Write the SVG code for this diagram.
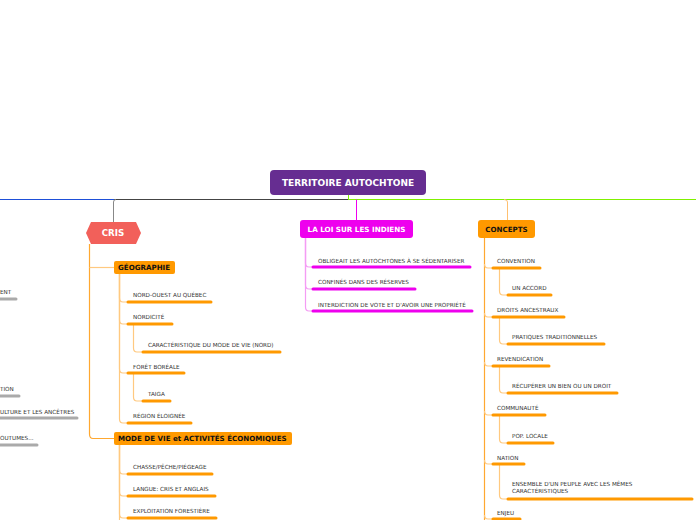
<svg xmlns="http://www.w3.org/2000/svg" width="696" height="520" viewBox="0 0 696 520">
<style>
text{font-family:"DejaVu Sans","Verdana",sans-serif}
.t{font-size:5.65px;fill:#333}
.h{font-size:7.1px;font-weight:bold;fill:#111}
.w{font-weight:bold;fill:#fff}
.ul{stroke:#FF9900;stroke-width:3;stroke-linecap:round;fill:none}
.um{stroke:#EE00EE;stroke-width:3;stroke-linecap:round;fill:none}
.ug{stroke:#AAAAAA;stroke-width:3;stroke-linecap:round;fill:none}
.c{fill:none;stroke:#FFC980;stroke-width:1.2}
.cm{fill:none;stroke:#F49CF4;stroke-width:1.2}
</style>
<rect width="696" height="520" fill="#fff"/>
<g id="connectors">
<line x1="0" y1="199.5" x2="114" y2="199.5" stroke="#1E4FD8" stroke-width="1"/>
<line x1="114" y1="199.5" x2="348" y2="199.5" stroke="#444" stroke-width="1"/>
<line x1="348" y1="199.5" x2="696" y2="199.5" stroke="#80F000" stroke-width="1"/>
<path d="M348.5 195 V199.5" stroke="#80F000" stroke-width="1" fill="none"/>
<path d="M116 199.5 Q113.5 199.5 113.5 202 V222" stroke="#888" stroke-width="1" fill="none"/>
<path d="M356.5 199.5 V220" stroke="#EE00EE" stroke-width="1" fill="none"/>
<path d="M504 199.5 Q507.5 199.5 507.5 202 V220" stroke="#FFC070" stroke-width="1" fill="none"/>
<!-- CRIS branch -->
<path d="M89.5 244 V434 Q89.5 438.5 93 438.5 H114" stroke="#FFA830" stroke-width="1.2" fill="none"/>
<path class="c" d="M89.5 267.5 H114"/>
<path class="c" d="M119.5 274 V298 Q119.5 302 123 302 H128"/>
<path class="c" d="M119.5 274 V320 Q119.5 324 123 324 H128"/>
<path class="c" d="M119.5 274 V369 Q119.5 373 123 373 H128"/>
<path class="c" d="M119.5 274 V419 Q119.5 423 123 423 H128"/>
<path class="c" d="M133.5 324 V348 Q133.5 352 137 352 H143"/>
<path class="c" d="M133.5 373 V397 Q133.5 401 137 401 H143"/>
<path class="c" d="M119.5 445 V470 Q119.5 474 123 474 H128"/>
<path class="c" d="M119.5 445 V492 Q119.5 496 123 496 H128"/>
<path class="c" d="M119.5 445 V514 Q119.5 518 123 518 H128"/>
<path class="c" d="M119.5 445 V520"/>
<!-- LOI branch -->
<path class="cm" d="M305.5 238 V263 Q305.5 267 309 267 H313"/>
<path class="cm" d="M305.5 238 V285 Q305.5 289 309 289 H313"/>
<path class="cm" d="M305.5 238 V307 Q305.5 311 309 311 H313"/>
<!-- CONCEPTS branch -->
<path d="M484.5 238 V520" stroke="#FFA830" stroke-width="1.2" fill="none"/>
<path class="c" d="M484.5 264 Q484.5 268 488 268 H493"/>
<path class="c" d="M484.5 313 Q484.5 317 488 317 H493"/>
<path class="c" d="M484.5 362 Q484.5 366 488 366 H493"/>
<path class="c" d="M484.5 411 Q484.5 415 488 415 H493"/>
<path class="c" d="M484.5 460 Q484.5 464 488 464 H493"/>
<path class="c" d="M484.5 515 Q484.5 519 488 519 H493"/>
<path class="c" d="M499.5 268 V291 Q499.5 295 503 295 H508"/>
<path class="c" d="M499.5 317 V340 Q499.5 344 503 344 H508"/>
<path class="c" d="M499.5 366 V389 Q499.5 393 503 393 H508"/>
<path class="c" d="M499.5 415 V439 Q499.5 443 503 443 H508"/>
<path class="c" d="M499.5 464 V495 Q499.5 499 503 499 H508"/>
</g>
<g id="root">
<rect x="270" y="170" width="156" height="25" rx="4" fill="#662D91"/>
<text class="w" x="348" y="186" font-size="9" text-anchor="middle">TERRITOIRE AUTOCHTONE</text>
</g>
<g id="cris">
<polygon points="86,233 91,222 136,222 141,233 136,244 91,244" fill="#F2605A"/>
<text class="w" x="113" y="236" font-size="8.7" text-anchor="middle">CRIS</text>
</g>
<g id="loi">
<rect x="300" y="220" width="113" height="18" rx="3" fill="#EE00EE"/>
<text class="w" x="356.5" y="231.5" font-size="7.2" text-anchor="middle">LA LOI SUR LES INDIENS</text>
</g>
<g id="concepts">
<rect x="478" y="220" width="57" height="18" rx="3" fill="#FF9900"/>
<text class="h" x="506.5" y="231.5" font-size="6.9" text-anchor="middle">CONCEPTS</text>
</g>
<g id="geographie">
<rect x="114" y="261" width="61" height="13" rx="2" fill="#FF9900"/>
<text class="h" x="118" y="270">GÉOGRAPHIE</text>
</g>
<g id="modedevie">
<rect x="114" y="432" width="178" height="13" rx="2" fill="#FF9900"/>
<text class="h" x="118" y="441">MODE DE VIE et ACTIVITÉS ÉCONOMIQUES</text>
</g>
<g id="cris-children">
<text class="t" x="133" y="297">NORD-OUEST AU QUÉBEC</text><path class="ul" d="M128 302 H211"/>
<text class="t" x="133" y="319">NORDICITÉ</text><path class="ul" d="M128 324 H172"/>
<text class="t" x="148" y="347">CARACTÉRISTIQUE DU MODE DE VIE (NORD)</text><path class="ul" d="M143 352 H280"/>
<text class="t" x="133" y="369">FORÊT BORÉALE</text><path class="ul" d="M128 373 H184"/>
<text class="t" x="148" y="396">TAIGA</text><path class="ul" d="M143 401 H170"/>
<text class="t" x="133" y="418">RÉGION ÉLOIGNÉE</text><path class="ul" d="M128 423 H191"/>
<text class="t" x="133" y="469">CHASSE/PÊCHE/PIÉGEAGE</text><path class="ul" d="M128 474 H212"/>
<text class="t" x="133" y="491">LANGUE: CRIS ET ANGLAIS</text><path class="ul" d="M128 496 H215"/>
<text class="t" x="133" y="513">EXPLOITATION FORESTIÈRE</text><path class="ul" d="M128 518 H216"/>
</g>
<g id="loi-children">
<text class="t" x="318" y="263">OBLIGEAIT LES AUTOCHTONES À SE SÉDENTARISER</text><path class="um" d="M313 267 H470"/>
<text class="t" x="318" y="284">CONFINÉS DANS DES RÉSERVES</text><path class="um" d="M313 289 H415"/>
<text class="t" x="318" y="307">INTERDICTION DE VOTE ET D'AVOIR UNE PROPRIÉTÉ</text><path class="um" d="M313 311 H472"/>
</g>
<g id="concepts-children">
<text class="t" x="497" y="263">CONVENTION</text><path class="ul" d="M493 268 H540"/>
<text class="t" x="512" y="290">UN ACCORD</text><path class="ul" d="M508 295 H551"/>
<text class="t" x="497" y="312">DROITS ANCESTRAUX</text><path class="ul" d="M493 317 H564"/>
<text class="t" x="512" y="339">PRATIQUES TRADITIONNELLES</text><path class="ul" d="M508 344 H604"/>
<text class="t" x="497" y="361">REVENDICATION</text><path class="ul" d="M493 366 H549"/>
<text class="t" x="512" y="388">RÉCUPÉRER UN BIEN OU UN DROIT</text><path class="ul" d="M508 393 H617"/>
<text class="t" x="497" y="410">COMMUNAUTÉ</text><path class="ul" d="M493 415 H545"/>
<text class="t" x="512" y="438">POP. LOCALE</text><path class="ul" d="M508 443 H553"/>
<text class="t" x="497" y="460">NATION</text><path class="ul" d="M493 464 H524"/>
<text class="t" x="512" y="486">ENSEMBLE D'UN PEUPLE AVEC LES MÊMES</text>
<text class="t" x="512" y="493">CARACTÉRISTIQUES</text><path class="ul" d="M508 499 H692"/>
<text class="t" x="497" y="515">ENJEU</text><path class="ul" d="M493 519 H520"/>
</g>
<g id="left-cut">
<text class="t" x="0" y="294">ENT</text><path class="ug" d="M-5 299 H16"/>
<text class="t" x="0" y="391">TION</text><path class="ug" d="M-5 396 H19"/>
<text class="t" x="0" y="414">ULTURE ET LES ANCÊTRES</text><path class="ug" d="M-5 418 H77"/>
<text class="t" x="0" y="440">OUTUMES...</text><path class="ug" d="M-5 445 H37"/>
</g>
</svg>
